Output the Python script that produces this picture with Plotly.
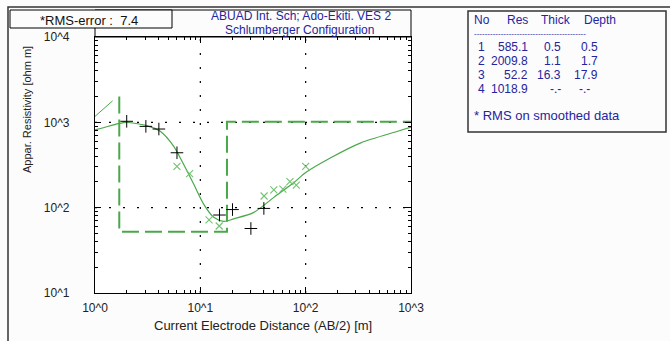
import math
import plotly.graph_objects as go

# ---------------- data ----------------
x_tickvals = [1, 10, 100, 1000]
x_ticktext = ["10^0", "10^1", "10^2", "10^3"]
y_tickvals = [10, 100, 1000, 10000]
y_ticktext = ["10^1", "10^2", "10^3", "10^4"]

# computed (model) apparent resistivity curve
curve_ab2 = [1.0, 1.2, 1.67, 2.0, 2.24, 3.1, 4.16, 5.57, 6.93, 8.64, 10.75, 13.4, 16.7,
             20.8, 32.2, 49.9, 77.4, 100, 173, 334, 747, 1000]
curve_rho = [815, 865, 966, 1000, 985, 916, 785, 526, 322, 189, 110, 77, 69,
             74, 88, 132, 197, 258, 385, 575, 785, 880]

# short thin segment at the left edge
tail_ab2 = [1.0, 1.47]
tail_rho = [1175, 1787]

# field data (+)
field_ab2 = [2.0, 3.04, 4.04, 6.0, 15.2, 20.2, 30.2, 40.1]
field_rho = [1028, 897, 835, 440, 82, 95, 57, 98]

# smoothed data (x)
smooth_ab2 = [6.0, 7.91, 12.1, 15.1, 40.3, 49.9, 60.8, 70.9, 81.5, 100]
smooth_rho = [305, 251, 72, 61, 137, 162, 165, 202, 184, 305]

# layer table
layer_no = [1, 2, 3, 4]
layer_res = [585.1, 2009.8, 52.2, 1018.9]
layer_thick = [0.5, 1.1, 16.3, None]
layer_depth = [0.5, 1.7, 17.9, None]
rms_error = 7.4

# ---------------- layout helpers ----------------
W, H = 670, 341
L, R, T, B = 95, 411, 37, 293
X_RANGE = [0, 3]
Y_RANGE = [1, 4]


def px(x):
    return (x - L) / (R - L)


def py(y):
    return (B - y) / (B - T)


GREEN = "#4aa84a"
GREEN_X = "#72c272"
BLUE = "#2424a0"
FONT = "Liberation Sans, Arial, sans-serif"

# dashed layered model (from bottom of layer 2 on)
model_x = [layer_depth[1], layer_depth[1], layer_depth[2], layer_depth[2], x_tickvals[-1]]
model_y = [layer_res[1], layer_res[2], layer_res[2], layer_res[3], layer_res[3]]

fig = go.Figure()
fig.add_trace(go.Scatter(x=model_x, y=model_y, mode="lines",
                         line=dict(color=GREEN, width=2, dash="17px,6px"),
                         hoverinfo="skip", showlegend=False))
fig.add_trace(go.Scatter(x=curve_ab2, y=curve_rho, mode="lines",
                         line=dict(color=GREEN, width=1.2, shape="spline", smoothing=0.8),
                         showlegend=False))
fig.add_trace(go.Scatter(x=tail_ab2, y=tail_rho, mode="lines",
                         line=dict(color=GREEN, width=1), showlegend=False))
fig.add_trace(go.Scatter(x=smooth_ab2, y=smooth_rho, mode="markers",
                         marker=dict(symbol="x-thin", size=7, color=GREEN_X,
                                     line=dict(width=1.1, color=GREEN_X)),
                         showlegend=False))
fig.add_trace(go.Scatter(x=field_ab2, y=field_rho, mode="markers",
                         marker=dict(symbol="cross-thin", size=9, color="black",
                                     line=dict(width=1, color="black")),
                         showlegend=False))

minor_x = [m * 10 ** e for e in range(0, 3) for m in range(2, 10)]
minor_y = [m * 10 ** e for e in range(1, 4) for m in range(2, 10)]

axis_common = dict(type="log", showline=True, linecolor="black", linewidth=1.2,
                   mirror="ticks", ticks="inside", ticklen=6, tickcolor="black",
                   tickmode="array", showgrid=False, zeroline=False,
                   tickfont=dict(family=FONT, size=12, color="#222222"))

fig.update_xaxes(range=X_RANGE, tickvals=x_tickvals, ticktext=x_ticktext,
                 ticklabelstandoff=3,
                 minor=dict(tickmode="array", tickvals=minor_x, ticks="inside",
                            ticklen=3, tickcolor="black", showgrid=False),
                 **axis_common)
fig.update_yaxes(range=Y_RANGE, tickvals=y_tickvals, ticktext=y_ticktext,
                 ticklabelstandoff=22,
                 minor=dict(tickmode="array", tickvals=minor_y, ticks="inside",
                            ticklen=3, tickcolor="black", showgrid=False),
                 **axis_common)

shapes = []
# dotted decade grid (sparse dots)
for v in x_tickvals[1:-1]:
    xp = (math.log10(v) - X_RANGE[0]) / (X_RANGE[1] - X_RANGE[0])
    shapes.append(dict(type="line", x0=xp, x1=xp, y0=0, y1=1, layer="below",
                       line=dict(color="black", width=1.2, dash="2px,12px")))
for v in y_tickvals[1:-1]:
    yp = (math.log10(v) - Y_RANGE[0]) / (Y_RANGE[1] - Y_RANGE[0])
    shapes.append(dict(type="line", x0=0, x1=1, y0=yp, y1=yp, layer="below",
                       line=dict(color="black", width=1.2, dash="2px,12px")))

shapes += [
    # outer frame
    dict(type="rect", x0=px(8), x1=px(680), y0=py(7), y1=py(350), layer="above",
         line=dict(color="#333333", width=1.5)),
    # title box above plot
    dict(type="rect", x0=px(95), x1=px(411), y0=py(10), y1=py(37), layer="above",
         line=dict(color="black", width=1)),
    # RMS box
    dict(type="rect", x0=px(10), x1=px(172), y0=py(10), y1=py(28), layer="above",
         line=dict(color="black", width=1), fillcolor="#fcfcfc"),
    # table box
    dict(type="rect", x0=px(468), x1=px(666), y0=py(11), y1=py(132), layer="above",
         line=dict(color="#333333", width=1.5)),
]
for s in shapes:
    s.update(xref="paper", yref="paper")

annotations = []


def txt(x, y, text, color="black", size=12, xanchor="center", angle=0):
    annotations.append(dict(xref="paper", yref="paper", x=px(x), y=py(y), text=text,
                            showarrow=False, xanchor=xanchor, yanchor="middle",
                            textangle=angle,
                            font=dict(family=FONT, size=size, color=color)))


txt(301, 16, "ABUAD Int. Sch; Ado-Ekiti. VES 2", BLUE)
txt(299, 30, "Schlumberger Configuration", BLUE)
txt(89, 20, "*RMS-error :  %.1f" % rms_error, "#111111", size=13)
txt(263, 325, "Current Electrode Distance (AB/2) [m]", "#222222", size=13)
txt(27, 110, "Appar. Resistivity [ohm m]", "#222222", size=11, angle=-90)

# table
txt(472, 20, "No", BLUE, xanchor="left")
txt(530, 20, "Res", BLUE, xanchor="right")
txt(573, 20, "Thick", BLUE, xanchor="right")
txt(618, 20, "Depth", BLUE, xanchor="right")
txt(472, 33, "-" * 42, BLUE, size=8, xanchor="left")
row_y = [47, 61, 75, 89]
for n, r, t, d, yy in zip(layer_no, layer_res, layer_thick, layer_depth, row_y):
    txt(476, yy, str(n), BLUE, xanchor="left")
    txt(530, yy, "%.1f" % r, BLUE, xanchor="right")
    if t is not None:
        txt(563, yy, "%.1f" % t, BLUE, xanchor="right")
    else:
        txt(563, yy, "-.-", BLUE, xanchor="right")
    if d is not None:
        txt(600, yy, "%.1f" % d, BLUE, xanchor="right")
    else:
        txt(577, yy, "-.-", BLUE, xanchor="left")
txt(472, 115, "* RMS on smoothed data", BLUE, size=13, xanchor="left")

fig.update_layout(width=W, height=H, autosize=False,
                  margin=dict(l=L, r=W - R, t=T, b=H - B, pad=0),
                  paper_bgcolor="#fcfcfc", plot_bgcolor="white",
                  shapes=shapes, annotations=annotations, showlegend=False)

fig.write_html("out.html")
